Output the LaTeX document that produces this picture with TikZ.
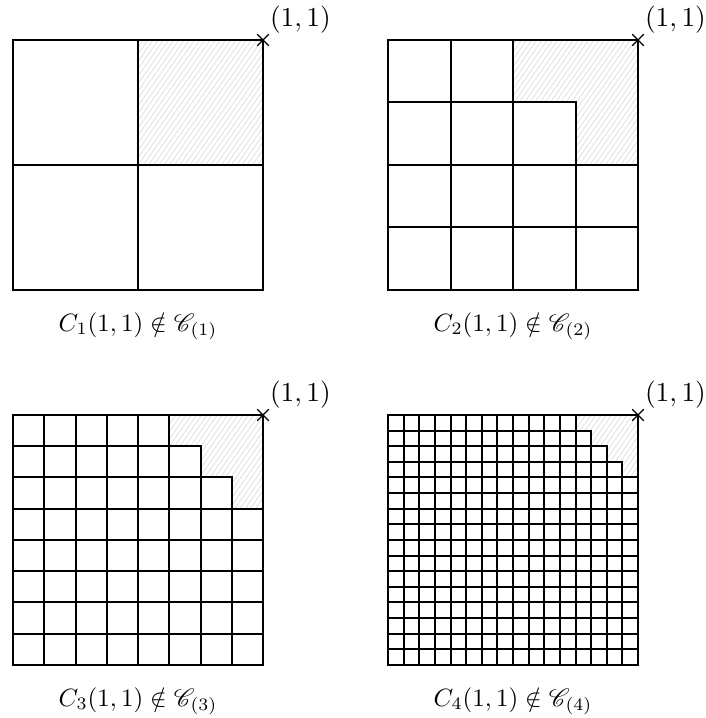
\documentclass[tikz,border=0pt]{standalone}
\usepackage{amssymb}
\usepackage{mathrsfs}
\usetikzlibrary{patterns.meta, shapes.misc}

\begin{document}
\begin{tikzpicture}[
    x=100pt, y=100pt,
    cell/.style={draw=black, line width=0.8pt},
    hatch/.style={
        pattern={Lines[angle=55,distance=1.7pt,line width=0.3pt]},
        pattern color=black!13
    },
    crossmark/.style={
        cross out, draw=black, line width=0.45pt,
        minimum size=4.2pt, inner sep=0pt
    },
    ptlabel/.style={above right, inner sep=2.6pt, font=\fontsize{11}{13}\selectfont},
    caption/.style={anchor=base, font=\fontsize{10.4}{12}\selectfont},
]

\useasboundingbox (-0.052,-0.212) rectangle (2.768,2.66);

% one panel per level n: a 2^n x 2^n grid with the corner left out
\foreach \n/\xo/\yo in {1/0/1.5, 2/1.5/1.5, 3/0/0, 4/1.5/0}{
\begin{scope}[shift={(\xo,\yo)}]
    \pgfmathtruncatemacro{\N}{2^\n}
    \pgfmathsetmacro{\h}{1/\N}

    % hatched corner (staircase)
    \foreach \j in {1,...,\n}{
        \pgfmathsetmacro{\xs}{(\N-\n-1+\j)*\h}
        \fill[hatch] (\xs,{1-\j*\h}) rectangle (1,{1-(\j-1)*\h});
    }

    % cells, row by row from the top
    \foreach \j in {1,...,\N}{
        \pgfmathtruncatemacro{\m}{\j>\n ? \N : \N-\n-1+\j}
        \foreach \i in {1,...,\m}{
            \draw[cell] ({(\i-1)*\h},{1-\j*\h}) rectangle ++(\h,\h);
        }
    }

    % outer square
    \draw[cell] (0,0) rectangle (1,1);

    \node[crossmark] (corner\n) at (1,1) {};
    \node[ptlabel] (pt\n) at (1,1) {$(1,1)$};
    \node[caption] (cap\n) at (0.5,-0.165) {$C_{\n}(1,1)\notin\mathscr{C}_{(\n)}$};
\end{scope}
}

\end{tikzpicture}
\end{document}
